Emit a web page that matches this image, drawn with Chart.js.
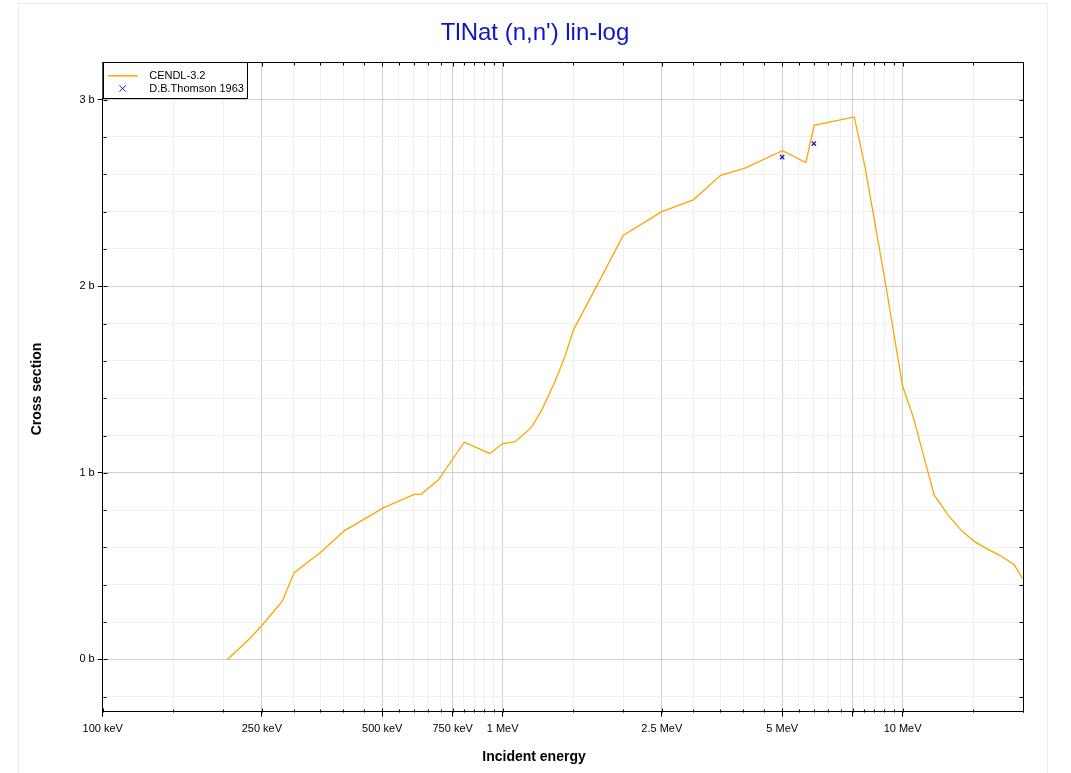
<!DOCTYPE html>
<html>
<head>
<meta charset="utf-8">
<title>TlNat (n,n') lin-log</title>
<script src="https://cdn.jsdelivr.net/npm/chart.js@4.4.1/dist/chart.umd.min.js"></script>
<style>
    html, body { margin: 0; padding: 0; background: #fff; overflow: hidden; }
    #frame { position: absolute; left: 18px; top: 3px; width: 1028px; height: 800px; border: 1px solid #ececec; }
    #wrap { position: absolute; left: 0; top: 0; width: 1071px; height: 773px; }
</style>
</head>
<body>
<div id="frame"></div>
<div id="wrap"><canvas id="chart"></canvas></div>
<script>
// CENDL-3.2 evaluation (energy in MeV, cross section in barns)
const cendlEnergy = [0.205, 0.233, 0.25, 0.281, 0.301, 0.349, 0.4035, 0.503, 0.601, 0.625, 0.69, 0.802,
    0.929, 1.0, 1.074, 1.181, 1.252, 1.351, 1.431, 1.502, 1.751, 2.002, 2.5, 2.997, 3.508, 4.035,
    5.01, 5.73, 6.01, 7.57, 8.05, 9.03, 10.0, 10.63, 11.48, 12.0, 13.0, 14.05, 15.17, 16.22, 17.5,
    19.01, 19.95];
const cendlXs = [0, 0.111, 0.182, 0.311, 0.465, 0.570, 0.692, 0.812, 0.885, 0.885, 0.961, 1.164,
    1.104, 1.157, 1.166, 1.245, 1.336, 1.488, 1.622, 1.765, 2.034, 2.272, 2.400, 2.463, 2.594, 2.633,
    2.726, 2.663, 2.862, 2.907, 2.642, 2.034, 1.465, 1.300, 1.032, 0.880, 0.773, 0.689, 0.630, 0.594, 0.558,
    0.508, 0.433];

// D.B.Thomson 1963 measurement
const thomsonEnergy = [5.0, 6.0];
const thomsonXs = [2.692, 2.764];

// axis ticks
const xMajorTicks = [0.1, 0.25, 0.5, 0.75, 1, 2.5, 5, 7.5, 10];
const xMajorLabels = ['100 keV', '250 keV', '500 keV', '750 keV', '1 MeV', '2.5 MeV', '5 MeV', '', '10 MeV'];
const xMinorTicks = [0.15, 0.2, 0.3, 0.35, 0.4, 0.45, 0.55, 0.6, 0.65, 0.7, 0.8, 0.85, 0.9, 0.95,
    1.5, 2, 3, 3.5, 4, 4.5, 5.5, 6, 6.5, 7, 8, 8.5, 9, 9.5, 15, 20];
const yMajorTicks = [0, 1, 2, 3];
const yMajorLabels = ['0 b', '1 b', '2 b', '3 b'];
const yMinorTicks = [-0.2, 0.2, 0.4, 0.6, 0.8, 1.2, 1.4, 1.6, 1.8, 2.2, 2.4, 2.6, 2.8, 3.2];

const chartTitle = "TlNat (n,n') lin-log";
const xTitle = 'Incident energy';
const yTitle = 'Cross section';

const FONT = '"Liberation Sans", Arial, sans-serif';
Chart.defaults.font.family = FONT;
Chart.defaults.color = '#000';

function isMajor(list, v) {
    return list.some(m => Math.abs(m - v) < 1e-9);
}

// titles, box, inner ticks and legend, drawn over the plot
const framePlugin = {
    id: 'framePlugin',
    afterDraw(chart) {
        const ctx = chart.ctx;
        const a = chart.chartArea;
        const xs = chart.scales.x, ys = chart.scales.y;
        const px = v => Math.round(v) + 0.5;
        ctx.save();

        // titles (centred on the whole figure)
        ctx.textAlign = 'center';
        ctx.textBaseline = 'middle';
        ctx.fillStyle = '#1212cc';
        ctx.font = '24px ' + FONT;
        ctx.fillText(chartTitle, 535, 33);
        ctx.fillStyle = '#000';
        ctx.font = 'bold 14px ' + FONT;
        ctx.fillText(xTitle, 534, 757);
        ctx.save();
        ctx.translate(37, 389);
        ctx.rotate(-Math.PI / 2);
        ctx.fillText(yTitle, 0, 0);
        ctx.restore();

        ctx.strokeStyle = '#000';
        ctx.lineWidth = 1;
        ctx.beginPath();
        ctx.moveTo(px(a.left), px(a.top));
        ctx.lineTo(px(a.right), px(a.top));
        ctx.lineTo(px(a.right), px(a.bottom));
        xs.ticks.forEach(t => {
            const p = px(xs.getPixelForValue(t.value));
            const len = isMajor(xMajorTicks, t.value) ? 4 : 3;
            ctx.moveTo(p, px(a.bottom)); ctx.lineTo(p, px(a.bottom) - len);
            ctx.moveTo(p, px(a.top)); ctx.lineTo(p, px(a.top) + len);
        });
        ys.ticks.forEach(t => {
            const p = px(ys.getPixelForValue(t.value));
            const len = isMajor(yMajorTicks, t.value) ? 4 : 3;
            ctx.moveTo(px(a.left), p); ctx.lineTo(px(a.left) + len, p);
            ctx.moveTo(px(a.right), p); ctx.lineTo(px(a.right) - 4, p);
        });
        ctx.stroke();

        // legend box
        const lx = a.left, ly = a.top, lw = 144, lh = 36;
        ctx.fillStyle = '#fff';
        ctx.fillRect(lx, ly, lw, lh);
        ctx.strokeRect(px(lx), px(ly), lw, lh);
        ctx.font = '11px ' + FONT;
        ctx.textAlign = 'left';
        ctx.textBaseline = 'middle';
        chart.data.datasets.forEach((ds, i) => {
            const rowY = ly + 13.5 + i * 12.7;
            ctx.strokeStyle = ds.borderColor;
            ctx.lineWidth = 1.5;
            ctx.beginPath();
            if (ds.showLine === false) {
                const cx = lx + 20, r = 3.2;
                ctx.lineWidth = 1;
                ctx.moveTo(cx - r, rowY - r); ctx.lineTo(cx + r, rowY + r);
                ctx.moveTo(cx - r, rowY + r); ctx.lineTo(cx + r, rowY - r);
            } else {
                ctx.moveTo(lx + 5, rowY); ctx.lineTo(lx + 35, rowY);
            }
            ctx.stroke();
            ctx.fillStyle = '#000';
            ctx.fillText(ds.label, lx + 46.5, rowY);
        });
        ctx.restore();
    }
};

const ctx = document.getElementById('chart').getContext('2d');
new Chart(ctx, {
    type: 'line',
    data: {
        datasets: [{
            label: 'CENDL-3.2',
            data: cendlEnergy.map((e, i) => ({ x: e, y: cendlXs[i] })),
            borderColor: '#ffa500',
            borderWidth: 1.3,
            pointRadius: 0,
            tension: 0,
            fill: false
        }, {
            label: 'D.B.Thomson 1963',
            data: thomsonEnergy.map((e, i) => ({ x: e, y: thomsonXs[i] })),
            showLine: false,
            borderColor: '#1c1ca8',
            backgroundColor: '#1c1ca8',
            pointStyle: 'crossRot',
            pointRadius: 3,
            pointBorderWidth: 1.2
        }]
    },
    options: {
        responsive: true,
        maintainAspectRatio: false,
        animation: false,
        layout: { padding: { left: 0, right: 48, top: 62.3, bottom: 0 }, autoPadding: false },
        plugins: {
            legend: { display: false },
            tooltip: { enabled: false },
            title: { display: false }
        },
        scales: {
            x: {
                type: 'logarithmic',
                min: 0.1,
                max: 20,
                afterBuildTicks: scale => {
                    scale.ticks = xMajorTicks.concat(xMinorTicks).sort((p, q) => p - q).map(v => ({ value: v }));
                },
                afterFit: scale => { scale.height = 61.3; },
                ticks: {
                    autoSkip: false,
                    maxRotation: 0,
                    padding: 6,
                    font: { size: 11 },
                    callback: v => {
                        const i = xMajorTicks.findIndex(m => Math.abs(m - v) < 1e-9);
                        return i >= 0 ? xMajorLabels[i] : '';
                    }
                },
                grid: {
                    tickLength: 5,
                    color: c => (c.tick && isMajor(xMajorTicks, c.tick.value)) ? '#d0d0d0' : '#f0f0f0',
                    tickColor: c => (c.tick && isMajor(xMajorTicks, c.tick.value)) ? '#000' : 'rgba(0,0,0,0)'
                },
                border: { display: true, color: '#000', width: 1 }
            },
            y: {
                type: 'linear',
                min: -0.28,
                max: 3.2,
                afterBuildTicks: scale => {
                    scale.ticks = yMajorTicks.concat(yMinorTicks).sort((p, q) => p - q).map(v => ({ value: v }));
                },
                afterFit: scale => { scale.width = 102.7; },
                ticks: {
                    autoSkip: false,
                    padding: 3,
                    font: { size: 11 },
                    callback: v => {
                        const i = yMajorTicks.findIndex(m => Math.abs(m - v) < 1e-9);
                        return i >= 0 ? yMajorLabels[i] : '';
                    }
                },
                grid: {
                    tickLength: 5,
                    color: c => (c.tick && isMajor(yMajorTicks, c.tick.value)) ? '#d0d0d0' : '#f0f0f0',
                    tickColor: c => (c.tick && isMajor(yMajorTicks, c.tick.value)) ? '#000' : 'rgba(0,0,0,0)'
                },
                border: { display: true, color: '#000', width: 1 }
            }
        }
    },
    plugins: [framePlugin]
});
</script>
</body>
</html>
